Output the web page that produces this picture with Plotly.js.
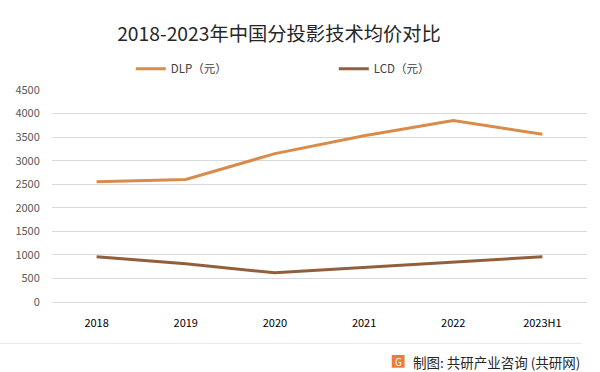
<!DOCTYPE html>
<html>
<head>
<meta charset="utf-8">
<script src="https://cdn.plot.ly/plotly-3.0.1.min.js"></script>
<style>html,body{margin:0;padding:0;background:#fff;}#chart{width:600px;height:372px;}</style>
</head>
<body>
<div id="chart"></div>
<script>
const categories = ["2018", "2019", "2020", "2021", "2022", "2023H1"];
const dlpValues = [2550, 2600, 3150, 3530, 3850, 3560];
const lcdValues = [960, 810, 620, 730, 850, 960];
const yTicks = [0, 500, 1000, 1500, 2000, 2500, 3000, 3500, 4000, 4500];
const seriesNames = ["DLP（元）", "LCD（元）"];
const titleText = "2018-2023年中国分投影技术均价对比";
const sourceText = "制图: 共研产业咨询 (共研网)";

const font = "'Noto Sans CJK SC', 'Noto Sans', sans-serif";

const traces = [
  {x: categories, y: dlpValues, name: seriesNames[0], type: "scatter", mode: "lines",
   line: {color: "#D98B4B", width: 3}, hoverinfo: "x+y"},
  {x: categories, y: lcdValues, name: seriesNames[1], type: "scatter", mode: "lines",
   line: {color: "#925F3D", width: 3}, hoverinfo: "x+y"}
];

const layout = {
  width: 600, height: 372,
  margin: {l: 52, r: 13, t: 90, b: 69.5},
  paper_bgcolor: "#fff", plot_bgcolor: "#fff",
  font: {family: font, color: "#595959", size: 11},
  title: {text: titleText, x: 0.465, xanchor: "center", y: 0.908, yanchor: "middle",
          font: {family: font, size: 19.3, color: "#262626"}},
  showlegend: true,
  legend: {orientation: "h", xref: "container", yref: "container", x: 0.218, y: 0.815,
           xanchor: "left", yanchor: "middle", entrywidth: 158, entrywidthmode: "pixels",
           font: {family: font, size: 11.5, color: "#404040"}, bgcolor: "rgba(0,0,0,0)", tracegroupgap: 0},
  xaxis: {type: "category", categoryorder: "array", categoryarray: categories,
          range: [-0.5, 5.5], showgrid: false, zeroline: false, showline: false,
          ticks: "outside", ticklen: 11, tickcolor: "rgba(0,0,0,0)",
          tickfont: {family: font, size: 11, color: "#000"}, fixedrange: true},
  yaxis: {range: [0, 4500], tickvals: yTicks, ticktext: yTicks.map(String),
          showgrid: true, gridcolor: "#D9D9D9", gridwidth: 1, zeroline: true, zerolinecolor: "#D9D9D9",
          showline: false, ticks: "outside", ticklen: 9, tickcolor: "rgba(0,0,0,0)",
          tickfont: {family: font, size: 11, color: "#595959"}, fixedrange: true},
  shapes: [
    {type: "line", xref: "paper", yref: "paper", x0: -0.097, x1: 0.99, y0: -0.195, y1: -0.195,
     line: {color: "#E6E6E6", width: 1}},
    {type: "rect", xref: "paper", yref: "paper", x0: 0.635, x1: 0.659, y0: -0.25, y1: -0.31,
     fillcolor: "#EE7B3A", line: {width: 0}}
  ],
  annotations: [
    {text: sourceText, xref: "paper", yref: "paper", x: 0.99, y: -0.283, xanchor: "right", yanchor: "middle",
     showarrow: false, font: {family: font, size: 13.5, color: "#262626"}},
    {text: "G", xref: "paper", yref: "paper", x: 0.647, y: -0.28, xanchor: "center", yanchor: "middle",
     showarrow: false, font: {family: font, size: 10, color: "#fff"}}
  ]
};

Plotly.newPlot("chart", traces, layout, {displayModeBar: false, staticPlot: true});
</script>
</body>
</html>
